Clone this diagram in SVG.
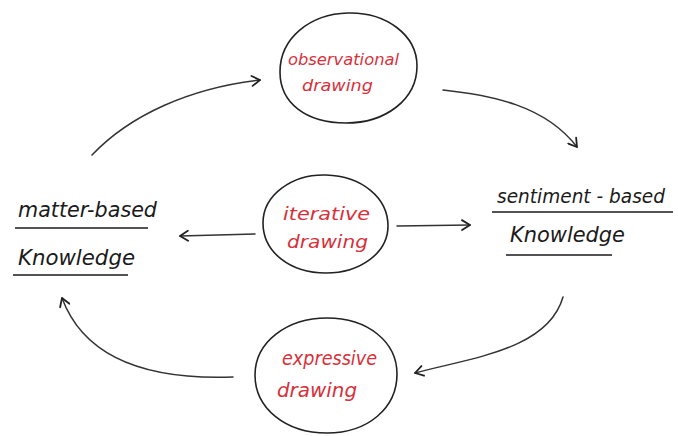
<svg xmlns="http://www.w3.org/2000/svg" width="678" height="436" viewBox="0 0 678 436">
  <defs>
    <style>
      .blob { fill: none; stroke: #222; stroke-width: 1.6; }
      .red { fill: #d8303a; font-family: "DejaVu Sans", "Liberation Sans", sans-serif; font-style: italic; }
      .blk { fill: #1a1a1a; font-family: "DejaVu Sans", "Liberation Sans", sans-serif; font-style: italic; }
      .ul { stroke: #1a1a1a; stroke-width: 1.6; fill: none; }
      .conn { fill: none; stroke: #333; stroke-width: 1.5; stroke-linecap: round; }
    </style>
    <marker id="arr" viewBox="0 0 12 12" refX="10" refY="6" markerWidth="12" markerHeight="12" markerUnits="userSpaceOnUse" orient="auto">
      <path d="M2,1 L10,6 L2,11" fill="none" stroke="#222" stroke-width="1.8" stroke-linecap="round" stroke-linejoin="round"/>
    </marker>
  </defs>
  <rect width="678" height="436" fill="#ffffff"/>

  <g id="observational">
    <path class="blob" d="M348,13 C386,12 417,35 417,66 C417,100 385,123 346,123 C306,123 280,103 280,72 C280,38 310,14 348,13 Z"/>
    <text class="red" x="288" y="65" font-size="15" textLength="111" lengthAdjust="spacingAndGlyphs">observational</text>
    <text class="red" x="302" y="91" font-size="16" textLength="71" lengthAdjust="spacingAndGlyphs">drawing</text>
  </g>

  <g id="iterative">
    <path class="blob" d="M326,175 C362,176 388,198 388,226 C388,253 360,273 326,273 C290,273 263,252 263,223 C263,195 292,174 326,175 Z"/>
    <text class="red" x="283" y="220" font-size="18" textLength="87" lengthAdjust="spacingAndGlyphs">iterative</text>
    <text class="red" x="287" y="248" font-size="18" textLength="81" lengthAdjust="spacingAndGlyphs">drawing</text>
  </g>

  <g id="expressive">
    <path class="blob" d="M327,318 C368,318 397,342 397,374 C397,408 368,433 327,433 C285,433 255,408 255,375 C255,342 287,318 327,318 Z"/>
    <text class="red" x="282" y="365" font-size="19" textLength="95" lengthAdjust="spacingAndGlyphs">expressive</text>
    <text class="red" x="277" y="397" font-size="19" textLength="80" lengthAdjust="spacingAndGlyphs">drawing</text>
  </g>

  <g id="matter-based">
    <text class="blk" x="18" y="217" font-size="21" textLength="139" lengthAdjust="spacingAndGlyphs">matter-based</text>
    <path class="ul" d="M15,228 L148,228"/>
    <text class="blk" x="18" y="265" font-size="21" textLength="117" lengthAdjust="spacingAndGlyphs">Knowledge</text>
    <path class="ul" d="M13,275 L128,275"/>
  </g>

  <g id="sentiment-based">
    <text class="blk" x="497" y="203" font-size="20" textLength="168" lengthAdjust="spacingAndGlyphs">sentiment - based</text>
    <path class="ul" d="M492,212 L673,212"/>
    <text class="blk" x="510" y="242" font-size="21" textLength="115" lengthAdjust="spacingAndGlyphs">Knowledge</text>
    <path class="ul" d="M506,255 L612,255"/>
  </g>

  <g id="connectors">
    <path class="conn" d="M92,155 C130,115 190,88 260,80" marker-end="url(#arr)"/>
    <path class="conn" d="M443,90 C490,95 545,105 577,147" marker-end="url(#arr)"/>
    <path class="conn" d="M563,297 C548,350 470,358 415,373" marker-end="url(#arr)"/>
    <path class="conn" d="M233,377 C150,380 85,360 62,298" marker-end="url(#arr)"/>
    <path class="conn" d="M255,234 L180,236" marker-end="url(#arr)"/>
    <path class="conn" d="M397,226 L470,225" marker-end="url(#arr)"/>
  </g>
</svg>
